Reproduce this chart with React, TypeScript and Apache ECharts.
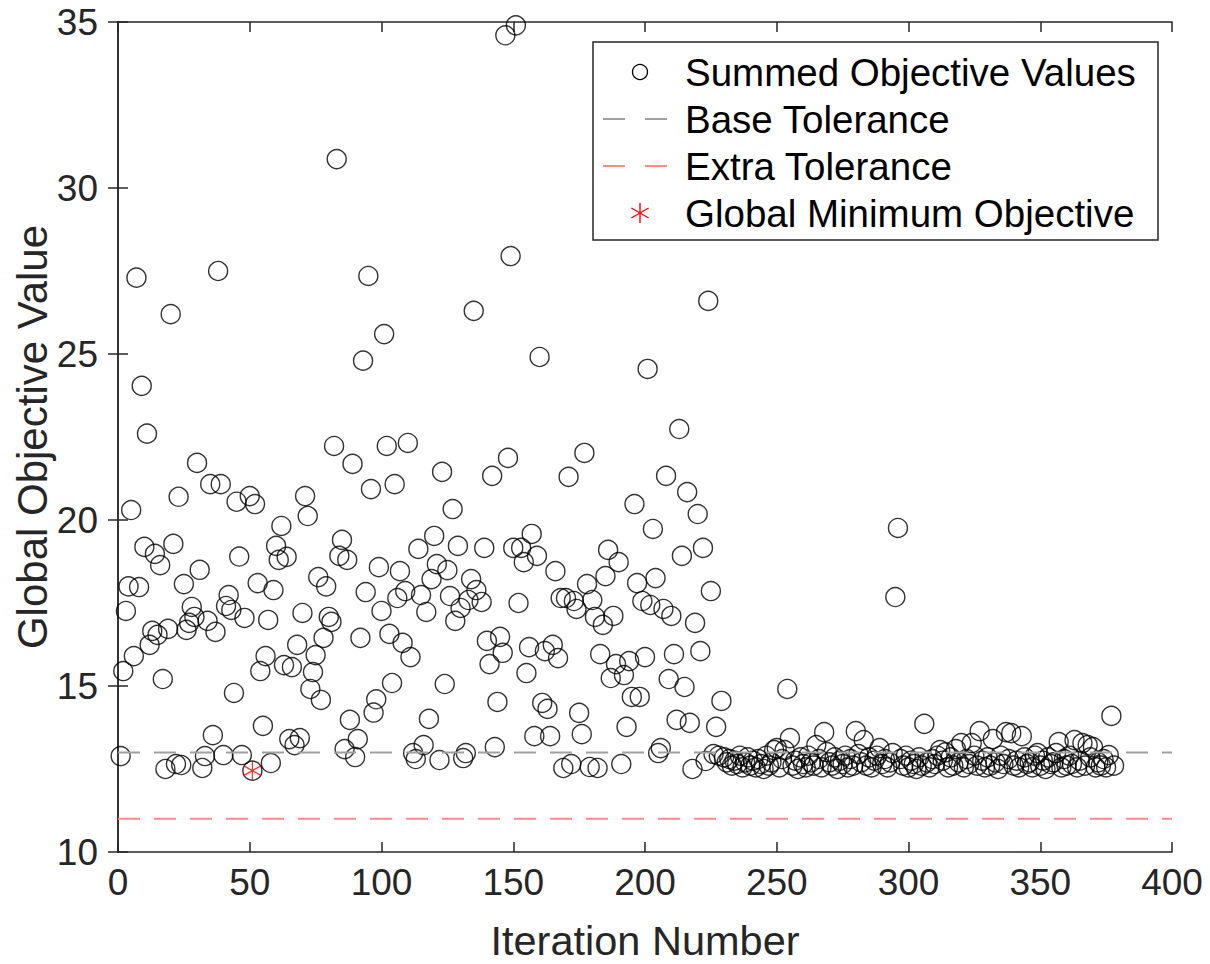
import React, { useEffect, useRef } from "react";
import * as echarts from "echarts";

// Exploration phase: iteration numbers and their summed objective values
const explorationIters = [
  1, 2, 3, 4, 5, 6, 7, 8, 9, 10, 11, 12, 13, 14, 15, 16, 17, 18, 19, 20,
  21, 22, 23, 24, 25, 26, 27, 28, 29, 30, 31, 32, 33, 34, 35, 36, 37, 38, 39, 40,
  41, 42, 43, 44, 45, 46, 47, 48, 50, 51, 52, 53, 54, 55, 56, 57, 58, 59, 60,
  61, 62, 63, 64, 65, 66, 67, 68, 69, 70, 71, 72, 73, 74, 75, 76, 77, 78, 79, 80,
  81, 82, 83, 84, 85, 86, 87, 88, 89, 90, 91, 92, 93, 94, 95, 96, 97, 98, 99, 100,
  101, 102, 103, 104, 105, 106, 107, 108, 109, 110, 111, 112, 113, 114, 115, 116, 117, 118, 119, 120,
  121, 122, 123, 124, 125, 126, 127, 128, 129, 130, 131, 132, 133, 134, 135, 136, 138, 139, 140,
  141, 142, 143, 144, 145, 146, 147, 148, 149, 150, 151, 152, 153, 154, 155, 156, 157, 158, 159, 160,
  161, 162, 163, 164, 165, 166, 167, 168, 169, 170, 171, 172, 173, 174, 175, 176, 177, 178, 179, 180,
  181, 182, 183, 184, 185, 186, 187, 188, 189, 190, 191, 192, 193, 194, 195, 196, 197, 198, 199, 200,
  201, 202, 203, 204, 205, 206, 207, 208, 209, 210, 211, 212, 213, 214, 215, 216, 217, 218, 219, 220,
  221, 222, 223, 224, 225,
];
const explorationValues = [
  12.89, 15.45, 17.26, 18.0, 20.3, 15.9, 27.3, 17.98, 24.04, 19.19, 22.6, 16.24, 16.66, 18.98, 16.54, 18.64, 15.21, 12.5, 16.72, 26.2,
  19.28, 12.65, 20.7, 12.62, 18.07, 16.69, 16.9, 17.38, 17.08, 21.72, 18.5, 12.53, 12.89, 16.96, 21.08, 13.52, 16.63, 27.5, 21.08, 12.92,
  17.41, 17.74, 17.29, 14.79, 20.55, 18.9, 12.92, 17.05, 20.72, 12.45, 20.48, 18.1, 15.45, 13.8, 15.9, 16.99, 12.68, 17.89, 19.22,
  18.8, 19.82, 15.63, 18.89, 13.4, 15.57, 13.22, 16.24, 13.43, 17.2, 20.72, 20.12, 14.91, 15.42, 15.93, 18.28, 14.58, 16.45, 18.0, 17.08,
  16.93, 22.23, 30.87, 18.92, 19.4, 13.1, 18.8, 13.98, 21.69, 12.86, 13.4, 16.45, 24.8, 17.83, 27.35, 20.93, 14.2, 14.6, 18.58, 17.26,
  25.6, 22.23, 16.57, 15.09, 21.08, 17.65, 18.46, 16.3, 17.86, 22.32, 15.87, 12.98, 12.8, 19.13, 17.74, 13.22, 17.23, 14.01, 18.22, 19.52,
  18.67, 12.77, 21.45, 15.06, 18.49, 17.71, 20.33, 16.96, 19.22, 17.35, 12.83, 12.98, 17.59, 18.22, 26.3, 17.89, 17.53, 19.16, 16.36,
  15.66, 21.33, 13.16, 14.52, 16.48, 16.0, 34.6, 21.87, 27.95, 19.16, 34.9, 17.5, 19.16, 18.73, 15.39, 16.17, 19.58, 13.49, 18.92, 24.91,
  14.49, 16.05, 14.31, 13.49, 16.24, 18.46, 15.84, 17.65, 12.53, 17.65, 21.3, 12.65, 17.56, 17.32, 14.19, 13.55, 22.02, 18.07, 12.56, 17.59,
  17.08, 12.53, 15.96, 16.84, 18.31, 19.1, 15.24, 17.11, 15.66, 18.73, 12.65, 15.33, 13.77, 15.75, 14.67, 20.48, 18.1, 14.67, 17.56, 15.87,
  24.55, 17.44, 19.73, 18.25, 12.98, 13.13, 17.32, 21.33, 15.21, 17.11, 15.96, 13.98, 22.74, 18.92, 14.97, 20.84, 13.89, 12.5, 16.9, 20.18,
  16.05, 19.16, 12.74, 26.6, 17.86,
];

// Refinement phase: consecutive iterations starting at 226
const refinementStart = 226;
const refinementValues = [
  12.95, 13.77, 12.9, 14.55, 12.85, 12.7, 12.8, 12.6, 12.75, 12.65,
  12.9, 12.55, 12.7, 12.85, 12.6, 12.75, 12.55, 12.8, 12.65, 12.5,
  12.9, 12.6, 12.7, 13.07, 13.13, 12.55, 12.8, 13.07, 14.91, 13.43,
  12.6, 12.75, 12.5, 12.85, 12.65, 12.55, 12.9, 12.7, 12.6, 13.22,
  12.8, 12.55, 13.61, 13.01, 12.7, 12.6, 12.85, 12.5, 12.75, 12.65,
  12.9, 12.55, 12.8, 12.6, 13.64, 12.95, 12.7, 13.37, 12.6, 12.85,
  12.55, 12.75, 12.9, 13.13, 12.65, 12.8, 12.55, 12.7, 12.98, 17.68,
  19.76, 12.8, 12.6, 12.9, 12.55, 12.75, 12.65, 12.5, 12.85, 12.6,
  13.86, 12.7, 12.55, 12.8, 12.65, 12.9, 13.07, 12.75, 13.0, 12.55,
  12.85, 12.6, 13.1, 12.7, 13.28, 12.55, 12.8, 12.65, 13.28, 12.9,
  12.6, 13.64, 12.75, 12.55, 12.85, 12.6, 13.4, 12.7, 12.5, 12.9,
  12.65, 13.61, 12.8, 13.58, 12.6, 12.75, 12.55, 13.49, 12.85, 12.65,
  12.7, 12.55, 12.9, 12.98, 12.6, 12.75, 12.5, 12.85, 12.65, 12.7,
  12.98, 13.31, 12.55, 12.8, 12.6, 12.9, 12.65, 13.37, 12.55, 12.75,
  13.28, 12.6, 13.22, 12.85, 13.16, 12.55, 12.7, 12.6, 12.8, 12.55,
  12.92, 14.1, 12.6,
];

const baseTolerance = 13;
const extraTolerance = 11;
const globalMinimum: [number, number] = [51, 12.45];

const xRange = [0, 400];
const yRange = [10, 35];
const xStep = 50;
const yStep = 5;

const legendLabels = [
  "Summed Objective Values",
  "Base Tolerance",
  "Extra Tolerance",
  "Global Minimum Objective",
];

const FONT = "'Liberation Sans', Arial, Helvetica, sans-serif";
const AXIS_COLOR = "#262626";
const BASE_COLOR = "#a0a0a0";
const EXTRA_COLOR = "#ff8a8a";
const STAR_PATH = "path://M5,0L5,10M0.67,2.5L9.33,7.5M0.67,7.5L9.33,2.5";

export default function App() {
  const ref = useRef<HTMLDivElement>(null);

  useEffect(() => {
    document.body.style.margin = "0";
    if (!ref.current) return;
    const chart = echarts.init(ref.current, undefined, { renderer: "svg" });

    const points: [number, number][] = explorationIters.map((it, i) => [it, explorationValues[i]]);
    refinementValues.forEach((v, i) => points.push([refinementStart + i, v]));

    const tickAxisCommon = {
      axisLine: { show: true, lineStyle: { color: AXIS_COLOR, width: 1.5 } },
      axisTick: { show: true, inside: true, length: 10, lineStyle: { color: AXIS_COLOR, width: 1.5 } },
      splitLine: { show: false },
    };

    const legendTop = 42;
    const rowY = [72, 119, 166, 213];
    const iconX = 640;
    const textX = 685;
    const starArm = 10;

    const graphic: any[] = [
      {
        type: "rect",
        z: 100,
        shape: { x: 593, y: legendTop, width: 565, height: 198 },
        style: { fill: "#ffffff", stroke: AXIS_COLOR, lineWidth: 1.5 },
      },
      {
        type: "circle",
        z: 101,
        shape: { cx: iconX, cy: rowY[0], r: 7.5 },
        style: { fill: "none", stroke: "#000000", lineWidth: 1.3 },
      },
      {
        type: "line",
        z: 101,
        shape: { x1: 603, y1: rowY[1], x2: 669, y2: rowY[1] },
        style: { stroke: BASE_COLOR, lineWidth: 2, lineDash: [22, 20] },
      },
      {
        type: "line",
        z: 101,
        shape: { x1: 603, y1: rowY[2], x2: 669, y2: rowY[2] },
        style: { stroke: EXTRA_COLOR, lineWidth: 2, lineDash: [22, 20] },
      },
      {
        type: "line",
        z: 101,
        shape: { x1: iconX, y1: rowY[3] - starArm, x2: iconX, y2: rowY[3] + starArm },
        style: { stroke: "#ff0000", lineWidth: 1.4 },
      },
      {
        type: "line",
        z: 101,
        shape: {
          x1: iconX - starArm * 0.866,
          y1: rowY[3] - starArm * 0.5,
          x2: iconX + starArm * 0.866,
          y2: rowY[3] + starArm * 0.5,
        },
        style: { stroke: "#ff0000", lineWidth: 1.4 },
      },
      {
        type: "line",
        z: 101,
        shape: {
          x1: iconX - starArm * 0.866,
          y1: rowY[3] + starArm * 0.5,
          x2: iconX + starArm * 0.866,
          y2: rowY[3] - starArm * 0.5,
        },
        style: { stroke: "#ff0000", lineWidth: 1.4 },
      },
      ...legendLabels.map((label, i) => ({
        type: "text",
        z: 101,
        x: textX,
        y: rowY[i],
        style: {
          text: label,
          fill: "#000000",
          font: `38.5px ${FONT}`,
          textAlign: "left",
          textVerticalAlign: "middle",
        },
      })),
      {
        type: "text",
        x: 645,
        y: 940,
        style: {
          text: "Iteration Number",
          fill: AXIS_COLOR,
          font: `41.5px ${FONT}`,
          textAlign: "center",
          textVerticalAlign: "middle",
        },
      },
      {
        type: "text",
        x: 32,
        y: 437,
        rotation: Math.PI / 2,
        style: {
          text: "Global Objective Value",
          fill: AXIS_COLOR,
          font: `42px ${FONT}`,
          textAlign: "center",
          textVerticalAlign: "middle",
        },
      },
    ];

    chart.setOption({
      animation: false,
      backgroundColor: "#ffffff",
      grid: { left: 118, top: 22, width: 1054, height: 830, containLabel: false },
      xAxis: [
        {
          type: "value",
          min: xRange[0],
          max: xRange[1],
          interval: xStep,
          position: "bottom",
          ...tickAxisCommon,
          axisLabel: { color: AXIS_COLOR, fontSize: 37, fontFamily: FONT, margin: 12 },
        },
        {
          type: "value",
          min: xRange[0],
          max: xRange[1],
          interval: xStep,
          position: "top",
          ...tickAxisCommon,
          axisLabel: { show: false },
        },
      ],
      yAxis: [
        {
          type: "value",
          min: yRange[0],
          max: yRange[1],
          interval: yStep,
          position: "left",
          ...tickAxisCommon,
          axisLabel: { color: AXIS_COLOR, fontSize: 37, fontFamily: FONT, margin: 20 },
        },
        {
          type: "value",
          min: yRange[0],
          max: yRange[1],
          interval: yStep,
          position: "right",
          ...tickAxisCommon,
          axisLabel: { show: false },
        },
      ],
      series: [
        {
          name: legendLabels[0],
          type: "scatter",
          silent: true,
          data: points,
          symbol: "circle",
          symbolSize: 19,
          itemStyle: { color: "rgba(0,0,0,0)", borderColor: "#000000", borderWidth: 1.4 },
          z: 2,
        },
        {
          name: legendLabels[1],
          type: "line",
          silent: true,
          symbol: "none",
          data: [
            [xRange[0], baseTolerance],
            [xRange[1], baseTolerance],
          ],
          lineStyle: { color: BASE_COLOR, width: 2, type: [22, 14] },
          z: 3,
        },
        {
          name: legendLabels[2],
          type: "line",
          silent: true,
          symbol: "none",
          data: [
            [xRange[0], extraTolerance],
            [xRange[1], extraTolerance],
          ],
          lineStyle: { color: EXTRA_COLOR, width: 2, type: [22, 14] },
          z: 3,
        },
        {
          name: legendLabels[3],
          type: "scatter",
          silent: true,
          data: [globalMinimum],
          symbol: STAR_PATH,
          symbolSize: [17, 19],
          itemStyle: { color: "none", borderColor: "#ff0000", borderWidth: 1.3 },
          z: 4,
        },
      ],
      graphic,
    });

    return () => chart.dispose();
  }, []);

  return (
    <div
      ref={ref}
      style={{ position: "absolute", left: 0, top: 0, width: 1210, height: 964 }}
    />
  );
}
